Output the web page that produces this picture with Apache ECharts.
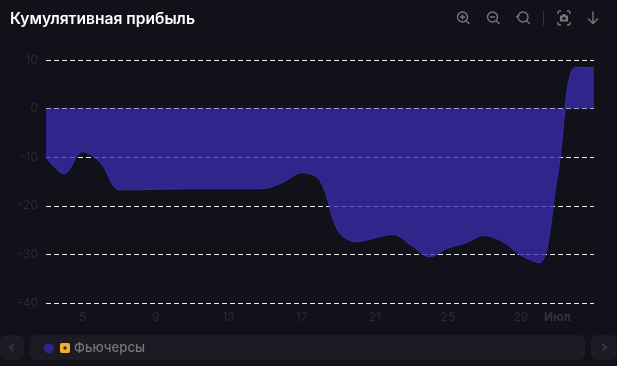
<!DOCTYPE html>
<html><head><meta charset="utf-8">
<style>html,body{margin:0;padding:0;background:#12111a}#c{width:617px;height:366px}</style>
<script src="https://cdn.jsdelivr.net/npm/echarts@6/dist/echarts.min.js"></script>
</head><body><div id="c"></div>
<script>
const titleText = 'Кумулятивная прибыль';
const seriesName = 'Фьючерсы';
const categories = ['3','4','5','6','7','8','9','10','11','12','13','14','15','16','17','18','19','20','21','22','23','24','25','26','27','28','29','30','Июл','2','3'];
const shownLabels = ['5','9','13','17','21','25','29','Июл'];
const values = [-10,-13.4,-8.9,-11.2,-16.7,-16.7,-16.6,-16.55,-16.5,-16.5,-16.5,-16.5,-16.4,-15.1,-13.2,-14.8,-25.2,-27.4,-26.6,-25.9,-28.1,-30.5,-28.7,-27.6,-26.1,-27.4,-30.2,-31.7,-13.8,8.5,8.4];
const yMin = -40, yMax = 10, yStep = 10;

const iconColor = '#77767d', panel = '#1c1b24';
const ln = (x1,y1,x2,y2,c,w) => ({type:'line',shape:{x1,y1,x2,y2},style:{stroke:c||iconColor,lineWidth:w||1.4,lineCap:'round'},silent:true});
const ring = (cx,cy,r) => ({type:'circle',shape:{cx,cy,r},style:{fill:'none',stroke:iconColor,lineWidth:1.4},silent:true});
const rr = (x,y,width,height,r,fill) => ({type:'rect',shape:{x,y,width,height,r},style:{fill},silent:true});
const pl = (points,stroke,lineWidth) => ({type:'polyline',shape:{points},style:{fill:'none',stroke:stroke||iconColor,lineWidth:lineWidth||1.4},silent:true});

const chart = echarts.init(document.getElementById('c'),null,{renderer:'canvas'});
chart.setOption({
  animation:false,
  backgroundColor:'#12111a',
  title:{text:titleText,left:10,top:11,padding:0,textStyle:{color:'#ffffff',fontFamily:'Inter',fontSize:15.6,fontWeight:600}},
  grid:{left:46,right:23,top:60,bottom:63},
  xAxis:{type:'category',data:categories,boundaryGap:false,
    axisLine:{show:false},axisTick:{show:false},splitLine:{show:false},
    axisLabel:{margin:8,interval:(i,v)=>shownLabels.includes(v),
      formatter:v=>v==='Июл'?'{m|'+v+'}':v,
      color:'#2b2a33',fontFamily:'Inter',fontSize:12,
      rich:{m:{color:'#33323b',fontFamily:'Inter',fontWeight:700,fontSize:12}}}},
  yAxis:{type:'value',min:yMin,max:yMax,interval:yStep,
    axisLine:{show:false},axisTick:{show:false},
    axisLabel:{margin:8,color:'#2b2a33',fontFamily:'Inter',fontSize:12},
    splitLine:{show:true,lineStyle:{color:'#e8e8ee',type:[5,3],width:1}}},
  legend:{left:44,top:342,padding:0,itemWidth:10,itemHeight:10,icon:'circle',
    textStyle:{color:'#76757c',fontFamily:'Inter',fontSize:13.2,fontWeight:500,padding:[0,0,0,15]},
    data:[{name:seriesName}]},
  series:[{name:seriesName,type:'line',data:values,smooth:0.35,symbol:'none',z:3,
    itemStyle:{color:'#2f258c'},
    lineStyle:{color:'#392cb2',width:1},
    areaStyle:{color:'#392cb2',opacity:0.75}}],
  graphic:[
    {type:'group',z:-1,silent:true,children:[
      rr(0,335,24,25,6,panel), rr(30,335,555,25,6,panel), rr(591,335,26,25,6,panel)]},
    {type:'group',z:5,silent:true,children:[
      pl([[13.5,344],[10,347.5],[13.5,351]],'#3a3942',1.6),
      pl([[602.5,344],[606,347.5],[602.5,351]],'#3f3e47',1.6),
      rr(60,343,10,10,2,'#f4b229'),
      {type:'circle',shape:{cx:65,cy:348,r:1.7},style:{fill:'#3a2c10'},silent:true},
      // zoom in
      ring(462.5,17,5), ln(466.5,21,469,23.5), ln(462.5,15,462.5,19), ln(460.5,17,464.5,17),
      // zoom out
      ring(492.5,17,5), ln(496.5,21,499,23.5), ln(490.5,17,494.5,17),
      // reset
      ring(523,17,5), ln(527,21,529.5,23.5), ln(516.5,17,519,15.5),
      // separator
      ln(543.5,11,543.5,25,'#35343c',1),
      // camera
      pl([[558,14],[558,12],[559,11],[561,11]]), pl([[567,11],[569,11],[570,12],[570,14]]),
      pl([[570,22],[570,24],[569,25],[567,25]]), pl([[561,25],[559,25],[558,24],[558,22]]),
      {type:'polygon',shape:{points:[[560,15.5],[562,15.5],[563,14],[565,14],[566,15.5],[568,15.5],[568,21.5],[560,21.5]]},style:{fill:iconColor},silent:true},
      {type:'circle',shape:{cx:564,cy:18.3,r:1.6},style:{fill:'#12111a'},silent:true},
      // download arrow
      ln(593,12,593,23.5), pl([[588,18.5],[593,23.5],[598,18.5]])
    ]}
  ]
});
</script></body></html>
